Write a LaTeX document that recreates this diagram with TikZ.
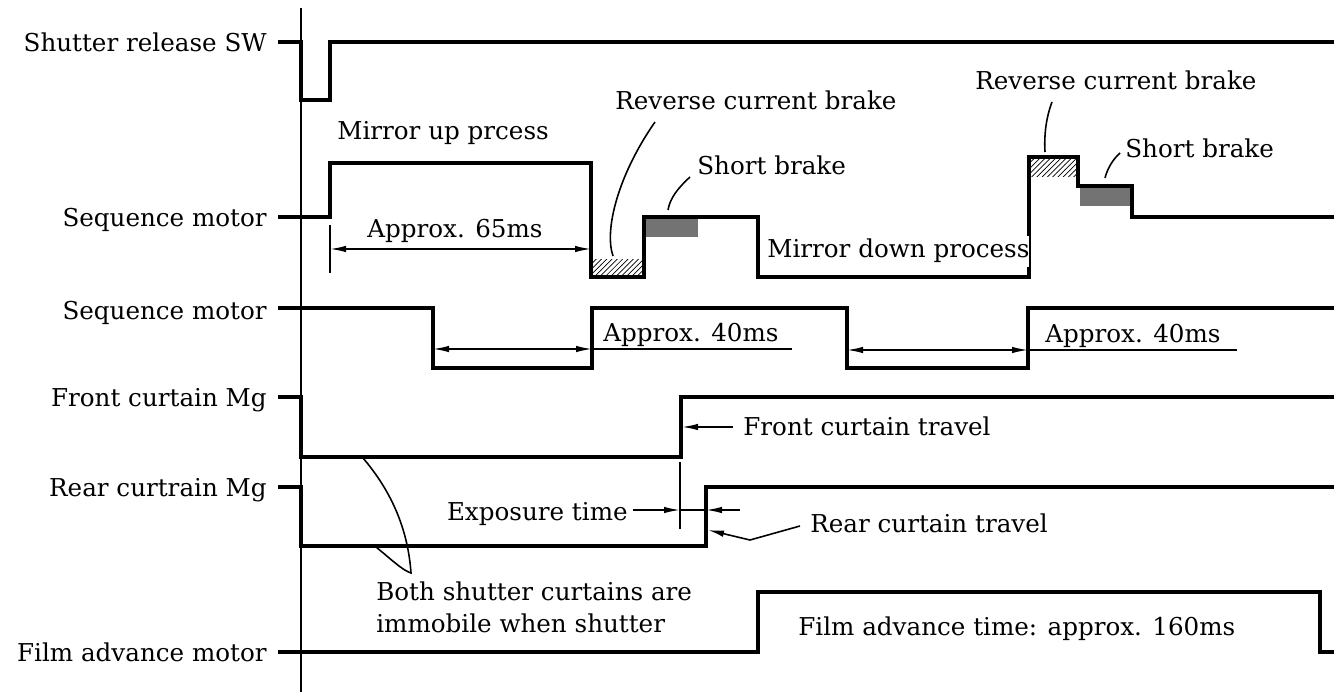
\documentclass[tikz,border=0pt]{standalone}
\usepackage{fontspec}
\setmainfont{DejaVu Serif}
\usetikzlibrary{arrows.meta,patterns}
\begin{document}
\begin{tikzpicture}[x=0.02cm,y=-0.02cm,
  sig/.style={line width=2.2pt, line join=miter},
  thinl/.style={line width=0.9pt},
  arr/.style={thinl,-{Latex[length=0.32cm,width=0.13cm]}},
  darr/.style={thinl,{Latex[length=0.32cm,width=0.13cm]}-{Latex[length=0.32cm,width=0.13cm]}},
  lab/.style={inner sep=0pt, font=\fontsize{14}{17}\selectfont},
  hatchbox/.style={pattern=north east lines},
  dotbox/.style={fill=black!55},
]
\fill[white] (0,0) rectangle (1334,692);
\useasboundingbox (0,0) rectangle (1334,692);

% time axis
\draw[thinl] (301,8) -- (301,692);

% signal labels
\node[lab,anchor=base east] (l1) at (267,52) {Shutter release SW};
\node[lab,anchor=base east] (l2) at (267,227) {Sequence motor};
\node[lab,anchor=base east] (l3) at (267,319) {Sequence motor};
\node[lab,anchor=base east] (l4) at (267,406) {Front curtain Mg};
\node[lab,anchor=base east] (l5) at (267,496) {Rear curtrain Mg};
\node[lab,anchor=base east] (l6) at (267,661) {Film advance motor};

% hatched / dotted brake areas
\fill[hatchbox] (593,260) rectangle (642,276);
\fill[dotbox] (646,219) rectangle (698,237);
\fill[hatchbox] (1031,159) rectangle (1076,177);
\fill[dotbox] (1080,188) rectangle (1130,206);

% waveforms
\draw[sig] (278,42) -- (301,42) -- (301,100) -- (330,100) -- (330,42) -- (1334,42);
\draw[sig] (278,217) -- (330,217) -- (330,163) -- (591,163) -- (591,277) -- (644,277)
  -- (644,217) -- (758,217) -- (758,277) -- (1029,277) -- (1029,157) -- (1078,157)
  -- (1078,186) -- (1132,186) -- (1132,217) -- (1334,217);
\draw[sig] (278,308) -- (433,308) -- (433,368) -- (592,368) -- (592,308) -- (847,308)
  -- (847,368) -- (1028,368) -- (1028,308) -- (1334,308);
\draw[sig] (278,397) -- (301,397) -- (301,457) -- (681,457) -- (681,397) -- (1334,397);
\draw[sig] (278,487) -- (301,487) -- (301,546) -- (706,546) -- (706,487) -- (1334,487);
\draw[sig] (278,652) -- (758,652) -- (758,592) -- (1320,592) -- (1320,652) -- (1334,652);

% sequence motor 1 annotations
\node[lab,anchor=base west] (mup) at (337,140) {Mirror up prcess};
\node[lab,anchor=base west] (a65) at (367,238) {Approx. 65ms};
\coordinate (a65l) at (330,249);
\coordinate (a65r) at (591,249);
\draw[thinl] (330,225) -- (330,273);
\draw[darr] (a65l) -- (a65r);

\node[lab,anchor=base west] (rc1) at (615,110) {Reverse current brake};
\draw[thinl] (655,122) .. controls (618,175) and (604,230) .. (613,256);
\node[lab,anchor=base west] (sb1) at (697,175) {Short brake};
\draw[thinl] (690,177) .. controls (678,188) and (670,198) .. (668,210);

\node[lab,anchor=base west,fill=white,inner ysep=2pt] (mdn) at (767,258) {Mirror down process};

\node[lab,anchor=base west] (rc2) at (975,90) {Reverse current brake};
\draw[thinl] (1052,102) .. controls (1046,118) and (1044,135) .. (1045,152);
\node[lab,anchor=base west] (sb2) at (1125,158) {Short brake};
\draw[thinl] (1120,153) .. controls (1112,160) and (1107,170) .. (1105,178);

% sequence motor 2 annotations
\coordinate (b1l) at (433,349);
\coordinate (b1r) at (592,349);
\draw[darr] (b1l) -- (b1r);
\draw[thinl] (b1r) -- (792,349);
\node[lab,anchor=base west] (a40a) at (603,341) {Approx. 40ms};
\coordinate (b2l) at (847,350);
\coordinate (b2r) at (1028,350);
\draw[darr] (b2l) -- (b2r);
\draw[thinl] (b2r) -- (1237,350);
\node[lab,anchor=base west] (a40b) at (1045,342) {Approx. 40ms};

% front curtain travel
\node[lab,anchor=base west] (fct) at (743,435) {Front curtain travel};
\coordinate (fcts) at (733,427);
\coordinate (fcte) at (682,427);
\draw[arr] (fcts) -- (fcte);

% exposure time
\node[lab,anchor=base east] (exp) at (628,520) {Exposure time};
\coordinate (e1) at (633,510);
\coordinate (e2) at (680,510);
\coordinate (e3) at (706,510);
\coordinate (e4) at (740,510);
\draw[thinl] (680,462) -- (680,529);
\draw[arr] (e1) -- (e2);
\draw[thinl] (e2) -- (e3);
\draw[arr] (e4) -- (e3);

% rear curtain travel
\node[lab,anchor=base west] (rct) at (810,532) {Rear curtain travel};
\coordinate (r1) at (800,526);
\coordinate (r2) at (750,540);
\coordinate (r3) at (708,530);
\draw[arr] (r1) -- (r2) -- (r3);

% both shutter curtains note
\node[lab,anchor=base west] (both1) at (376,600) {Both shutter curtains are};
\node[lab,anchor=base west] (both2) at (376,632) {immobile when shutter};
\draw[thinl] (363,458) .. controls (392,492) and (408,530) .. (411,573)
  .. controls (402,570) and (392,560) .. (376,547);

% film advance
\node[lab,anchor=base west] (fat) at (798,635) {Film advance time: approx. 160ms};
\end{tikzpicture}
\end{document}
